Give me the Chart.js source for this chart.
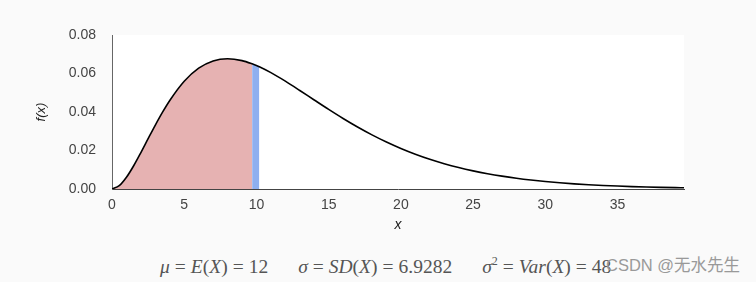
<!DOCTYPE html>
<html>
<head>
<meta charset="utf-8">
<script src="https://cdn.jsdelivr.net/npm/chart.js@4/dist/chart.umd.min.js"></script>
<style>
  html, body { margin:0; padding:0; background:#fafafa; width:756px; height:282px; overflow:hidden; }
  #wrap { position:relative; width:756px; height:282px; }
  canvas { position:absolute; left:0; top:0; }
  #formula { position:absolute; left:160px; top:254px; font-family:"Liberation Serif","DejaVu Serif",serif; font-size:19.5px; color:#555; white-space:nowrap; }
  #formula i { font-style:italic; }
  #formula .gap { display:inline-block; width:30px; }
  #formula .eq { padding:0 5px; }
  #wm { position:absolute; left:606px; top:252px; font-family:"Liberation Sans","Noto Sans CJK SC",sans-serif; font-size:16.5px; color:#999; white-space:nowrap; }
</style>
</head>
<body>
<div id="wrap">
  <canvas id="c" width="756" height="240"></canvas>
  <div id="formula"><i>μ</i><span class="eq">=</span><i>E</i>(<i>X</i>)<span class="eq">=</span>12<span class="gap"></span><i>σ</i><span class="eq">=</span><i>SD</i>(<i>X</i>)<span class="eq">=</span>6.9282<span class="gap"></span><i>σ</i><sup style="font-size:12px">2</sup><span class="eq">=</span><i>Var</i>(<i>X</i>)<span class="eq">=</span>48</div>
  <div id="wm">CSDN @无水先生</div>
</div>
<script>
// x positions and density values
const xValues = [0, 0.5, 1, 1.5, 2, 2.5, 3, 3.5, 4, 5, 6, 7, 8, 9, 9.7, 10, 10.2,
  11, 12, 13, 14, 15, 16, 17, 18, 19, 20, 21, 22, 23, 24, 25, 26, 27, 28, 29,
  30, 31, 32, 33, 34, 35, 36, 37, 38, 39, 39.6];
const densityValues = [0, 0.00172, 0.00608, 0.01208, 0.01895, 0.02614, 0.03321, 0.03990, 0.04599,
  0.05596, 0.06276, 0.06652, 0.06767, 0.06670, 0.06503, 0.06413, 0.06347,
  0.06043, 0.05601, 0.05119, 0.04624, 0.04134, 0.03663, 0.03221, 0.02812, 0.02440,
  0.02106, 0.01808, 0.01545, 0.01315, 0.01115, 0.00943, 0.00794, 0.00667, 0.00559,
  0.00467, 0.00389, 0.00323, 0.00268, 0.00222, 0.00184, 0.00152, 0.00125, 0.00103,
  0.00084, 0.00069, 0.00062];
const pinkUpTo = 9.7;
const blueFrom = 9.7;
const blueTo = 10.2;
const xTickLabels = ['0', '5', '10', '15', '20', '25', '30', '35'];
const yTickLabels = ['0.00', '0.02', '0.04', '0.06', '0.08'];

const curve = xValues.map((x, i) => ({ x, y: densityValues[i] }));
const pink = curve.filter(p => p.x <= pinkUpTo);
const blue = curve.filter(p => p.x >= blueFrom && p.x <= blueTo);

const plotBg = {
  id: 'plotBg',
  beforeDraw(chart) {
    const { ctx, chartArea: a } = chart;
    ctx.save();
    ctx.fillStyle = '#ffffff';
    ctx.fillRect(a.left, a.top, a.right - a.left, a.bottom - a.top);
    ctx.restore();
  }
};

new Chart(document.getElementById('c'), {
  type: 'line',
  data: {
    datasets: [
      { data: curve, borderColor: '#000', borderWidth: 1.6, pointRadius: 0, fill: false, cubicInterpolationMode: 'monotone', order: 0 },
      { data: pink, borderWidth: 0, borderColor: 'rgba(0,0,0,0)', backgroundColor: '#e6b2b2', pointRadius: 0, fill: 'origin', cubicInterpolationMode: 'monotone', order: 2 },
      { data: blue, borderWidth: 0, borderColor: 'rgba(0,0,0,0)', backgroundColor: '#8eaff0', pointRadius: 0, fill: 'origin', cubicInterpolationMode: 'monotone', order: 1 }
    ]
  },
  options: {
    responsive: false,
    animation: false,
    devicePixelRatio: 1,
    layout: { padding: { left: 0, right: 72, top: 35, bottom: 0 } },
    plugins: { legend: { display: false }, tooltip: { enabled: false } },
    scales: {
      x: {
        type: 'linear', min: 0, max: 39.6,
        grid: { display: false, drawTicks: false },
        border: { display: true, color: '#444', width: 1 },
        ticks: {
          stepSize: 5, includeBounds: false, padding: 8, color: '#444', maxRotation: 0,
          font: { family: 'Liberation Sans, Arial, sans-serif', size: 14 },
          callback: (v) => xTickLabels[v / 5] ?? ''
        },
        title: { display: true, text: 'x', color: '#222', padding: { top: 0, bottom: 6 },
          font: { family: 'Liberation Sans, Arial, sans-serif', size: 14, style: 'italic' } },
        afterFit: (s) => { s.height = 51; }
      },
      y: {
        min: 0, max: 0.08,
        grid: { display: false, drawTicks: false },
        border: { display: true, color: '#666', width: 1 },
        ticks: {
          stepSize: 0.02, padding: 16, color: '#444',
          font: { family: 'Liberation Sans, Arial, sans-serif', size: 14 },
          callback: (v) => yTickLabels[Math.round(v / 0.02)] ?? ''
        },
        title: { display: true, text: 'f(x)', color: '#222', padding: { top: 34, bottom: 0 },
          font: { family: 'Liberation Sans, Arial, sans-serif', size: 13, style: 'italic' } },
        afterFit: (s) => { s.width = 112; }
      }
    }
  },
  plugins: [plotBg]
});
</script>
</body>
</html>
